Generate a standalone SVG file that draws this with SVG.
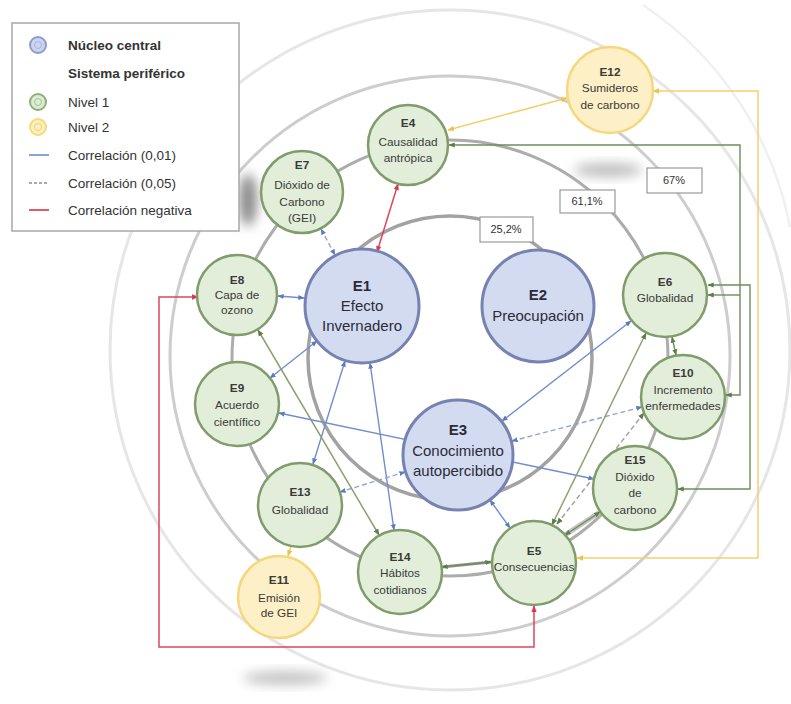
<svg xmlns="http://www.w3.org/2000/svg" width="791" height="704" viewBox="0 0 791 704">
<defs>
<style>
.ring{fill:none}
.nb{fill:#d3dbf0;stroke:#7682b0;stroke-width:3}
.ng{fill:#e2eed9;stroke:#7f9c6a;stroke-width:2.5}
.ny{fill:#fdf0c6;stroke:#f6d77e;stroke-width:2.5}
.tb{font-family:"Liberation Sans",Arial,sans-serif;font-size:15px;fill:#2b2b3a;text-anchor:middle}
.ts{font-family:"Liberation Sans",Arial,sans-serif;font-size:11.8px;fill:#3a3a3a;text-anchor:middle}
.bold{font-weight:bold}
.lg{font-family:"Liberation Sans",Arial,sans-serif;font-size:13.5px;fill:#333}
.pc{font-family:"Liberation Sans",Arial,sans-serif;font-size:11px;fill:#333;text-anchor:middle}
.box{fill:#fff;stroke:#9a9a9a;stroke-width:1.2}
.cb{fill:none;stroke:#6f8fcb;stroke-width:1.4;marker-start:url(#mb);marker-end:url(#mb)}
.cbd{fill:none;stroke:#8ea5d2;stroke-width:1.4;stroke-dasharray:5 3;marker-start:url(#mb);marker-end:url(#mb)}
.cr{fill:none;stroke:#d9475c;stroke-width:1.5;marker-start:url(#mr);marker-end:url(#mr)}
.cg{fill:none;stroke:#6e8d5c;stroke-width:1.4;marker-start:url(#mg);marker-end:url(#mg)}
.co{fill:none;stroke:#8fa070;stroke-width:1.5;marker-start:url(#mg);marker-end:url(#mg)}
.cy{fill:none;stroke:#f3cf6c;stroke-width:1.5;marker-start:url(#my);marker-end:url(#my)}
.cgd{fill:none;stroke:#a3a3a3;stroke-width:1.5;stroke-dasharray:5 3;marker-start:url(#mg);marker-end:url(#mg)}
</style>
<marker id="mb" viewBox="0 0 10 10" refX="9" refY="5" markerWidth="4.5" markerHeight="4.5" orient="auto-start-reverse"><path d="M0,1 L10,5 L0,9 z" fill="#5a7cbf"/></marker>
<marker id="mr" viewBox="0 0 10 10" refX="9" refY="5" markerWidth="4.5" markerHeight="4.5" orient="auto-start-reverse"><path d="M0,1 L10,5 L0,9 z" fill="#d63a50"/></marker>
<marker id="mg" viewBox="0 0 10 10" refX="9" refY="5" markerWidth="4.5" markerHeight="4.5" orient="auto-start-reverse"><path d="M0,1 L10,5 L0,9 z" fill="#5c7f48"/></marker>
<marker id="my" viewBox="0 0 10 10" refX="9" refY="5" markerWidth="4.5" markerHeight="4.5" orient="auto-start-reverse"><path d="M0,1 L10,5 L0,9 z" fill="#eec250"/></marker>
<filter id="blur" x="-50%" y="-50%" width="200%" height="200%"><feGaussianBlur stdDeviation="6"/></filter>
</defs>
<rect width="791" height="704" fill="#fff"/>

<g id="rings">
<path class="ring" d="M 643,5 A 346,346 0 0 1 790,227" stroke="#f0f0f0" stroke-width="2.5"/>
<circle class="ring" cx="450" cy="350" r="340" stroke="#e6e6e6" stroke-width="3"/>
<circle class="ring" cx="450" cy="356" r="280" stroke="#cdcdcd" stroke-width="3"/>
<circle class="ring" cx="450" cy="358" r="218" stroke="#acacac" stroke-width="3"/>
<circle class="ring" cx="450" cy="358" r="142" stroke="#a2a2a2" stroke-width="3.5"/>
</g>

<g id="shadows">
<ellipse cx="248" cy="200" rx="9" ry="26" fill="#8a8a8a" filter="url(#blur)"/>
<ellipse cx="608" cy="170" rx="34" ry="7" fill="#bdbdbd" filter="url(#blur)"/>
<ellipse cx="285" cy="678" rx="42" ry="7" fill="#c4c4c4" filter="url(#blur)"/>
</g>

<g id="legend">
<rect x="12" y="23" width="227" height="208" fill="#fff" stroke="#a8a8a8" stroke-width="1.5"/>
<circle cx="38" cy="45" r="8" fill="#cdd5ee" stroke="#8e9bd1" stroke-width="2"/>
<circle cx="38" cy="45" r="3.5" fill="none" stroke="#aab5e0" stroke-width="1"/>
<text class="lg bold" x="68" y="50">Núcleo central</text>
<text class="lg bold" x="68" y="78">Sistema periférico</text>
<circle cx="38" cy="102" r="8" fill="#dcebd2" stroke="#8fae7a" stroke-width="2"/>
<circle cx="38" cy="102" r="3.5" fill="none" stroke="#a9c496" stroke-width="1"/>
<text class="lg" x="68" y="107">Nivel 1</text>
<circle cx="38" cy="127" r="8" fill="#fdefc0" stroke="#f7d97a" stroke-width="2"/>
<circle cx="38" cy="127" r="3.5" fill="none" stroke="#f3cf6c" stroke-width="1"/>
<text class="lg" x="68" y="132">Nivel 2</text>
<line x1="29" y1="155" x2="49" y2="155" stroke="#8ea4d8" stroke-width="2"/>
<text class="lg" x="68" y="160">Correlación (0,01)</text>
<line x1="29" y1="183" x2="49" y2="183" stroke="#aaaaaa" stroke-width="2" stroke-dasharray="3 2"/>
<text class="lg" x="68" y="188">Correlación (0,05)</text>
<line x1="29" y1="210" x2="49" y2="210" stroke="#e05a6a" stroke-width="2"/>
<text class="lg" x="68" y="215">Correlación negativa</text>
</g>

<g id="percent-boxes">
<rect class="box" x="480" y="217" width="53" height="25"/>
<text class="pc" x="506" y="233">25,2%</text>
<rect class="box" x="560" y="190" width="55" height="23"/>
<text class="pc" x="587" y="205">61,1%</text>
<rect class="box" x="647" y="168" width="55" height="25"/>
<text class="pc" x="674" y="184">67%</text>
</g>

<g id="connectors">
<path class="cy" d="M653,91 H758 V558 H577"/>
<path class="cg" d="M449,145 H740 V395 H726"/>
<path class="cg" d="M740,295 H708" style="marker-start:none"/>
<path class="cg" d="M708,285 H750 V489 H678"/>
<path class="cr" d="M534,606 V647 H159 V297 H198"/>
<line class="cy" x1="448" y1="130" x2="567" y2="98"/>
<line class="cr" x1="377" y1="252" x2="398" y2="184"/>
<line class="cbd" x1="321" y1="229" x2="335" y2="255"/>
<line class="cb" x1="278" y1="296" x2="304" y2="298"/>
<line class="cb" x1="317" y1="341" x2="270" y2="378"/>
<line class="cb" x1="345" y1="361" x2="313" y2="464"/>
<line class="cb" x1="370" y1="363" x2="394" y2="530"/>
<line class="co" x1="258" y1="330" x2="379" y2="535"/>
<line class="cb" x1="279" y1="413" x2="594" y2="479"/>
<line class="cb" x1="502" y1="421" x2="631" y2="321"/>
<line class="cbd" x1="405" y1="472" x2="340" y2="492"/>
<line class="cbd" x1="512" y1="441" x2="642" y2="407"/>
<line class="cb" x1="490" y1="500" x2="510" y2="528"/>
<line class="co" x1="552" y1="525" x2="646" y2="333"/>
<line class="cgd" x1="557" y1="524" x2="644" y2="413"/>
<line x1="565" y1="535" x2="600" y2="512" stroke="#c2c2c2" stroke-width="5"/>
<line class="cg" x1="565" y1="535" x2="600" y2="512"/>
<line x1="442" y1="567" x2="491" y2="562" stroke="#9a9a9a" stroke-width="3"/>
<line class="cg" x1="442" y1="567" x2="491" y2="562"/>
<line class="cy" x1="291" y1="546" x2="288" y2="556" style="marker-start:none"/>
<line class="cg" x1="672" y1="337" x2="676" y2="355"/>
</g>

<g id="E1"><circle class="nb" cx="362" cy="306" r="57"/>
<text class="tb bold" x="362" y="291">E1</text><text class="tb" x="362" y="311">Efecto</text><text class="tb" x="362" y="331">Invernadero</text></g>
<g id="E2"><circle class="nb" cx="538" cy="306" r="56"/>
<text class="tb bold" x="538" y="300">E2</text><text class="tb" x="538" y="321">Preocupación</text></g>
<g id="E3"><circle class="nb" cx="458" cy="455" r="55"/>
<text class="tb bold" x="458" y="435">E3</text><text class="tb" x="458" y="456">Conocimiento</text><text class="tb" x="458" y="476">autopercibido</text></g>

<g id="E4"><circle class="ng" cx="408" cy="145" r="40"/>
<text class="ts bold" x="408" y="127">E4</text><text class="ts" x="408" y="146">Causalidad</text><text class="ts" x="408" y="162">antrópica</text></g>
<g id="E7"><circle class="ng" cx="302" cy="192" r="41"/>
<text class="ts bold" x="302" y="169">E7</text><text class="ts" x="302" y="189">Dióxido de</text><text class="ts" x="302" y="206">Carbono</text><text class="ts" x="302" y="222">(GEI)</text></g>
<g id="E8"><circle class="ng" cx="237" cy="295" r="40"/>
<text class="ts bold" x="237" y="284">E8</text><text class="ts" x="237" y="299">Capa de</text><text class="ts" x="237" y="314">ozono</text></g>
<g id="E9"><circle class="ng" cx="237" cy="404" r="42"/>
<text class="ts bold" x="237" y="392">E9</text><text class="ts" x="237" y="409">Acuerdo</text><text class="ts" x="237" y="426">científico</text></g>
<g id="E13"><circle class="ng" cx="300" cy="505" r="42"/>
<text class="ts bold" x="300" y="496">E13</text><text class="ts" x="300" y="514">Globalidad</text></g>
<g id="E14"><circle class="ng" cx="400" cy="572" r="42"/>
<text class="ts bold" x="400" y="561">E14</text><text class="ts" x="400" y="577">Hábitos</text><text class="ts" x="400" y="594">cotidianos</text></g>
<g id="E5"><circle class="ng" cx="534" cy="563" r="42"/>
<text class="ts bold" x="534" y="555">E5</text><text class="ts" x="534" y="571">Consecuencias</text></g>
<g id="E15"><circle class="ng" cx="635" cy="488" r="42"/>
<text class="ts bold" x="635" y="464">E15</text><text class="ts" x="635" y="481">Dióxido</text><text class="ts" x="635" y="497">de</text><text class="ts" x="635" y="514">carbono</text></g>
<g id="E10"><circle class="ng" cx="683" cy="397" r="42"/>
<text class="ts bold" x="683" y="377">E10</text><text class="ts" x="683" y="394">Incremento</text><text class="ts" x="683" y="410">enfermedades</text></g>
<g id="E6"><circle class="ng" cx="665" cy="295" r="42"/>
<text class="ts bold" x="665" y="286">E6</text><text class="ts" x="665" y="302">Globalidad</text></g>

<g id="E11"><circle class="ny" cx="279" cy="597" r="41"/>
<text class="ts bold" x="279" y="584">E11</text><text class="ts" x="279" y="602">Emisión</text><text class="ts" x="279" y="617">de GEI</text></g>
<g id="E12"><circle class="ny" cx="610" cy="90" r="43"/>
<text class="ts bold" x="610" y="76">E12</text><text class="ts" x="610" y="92">Sumideros</text><text class="ts" x="610" y="109">de carbono</text></g>
</svg>
